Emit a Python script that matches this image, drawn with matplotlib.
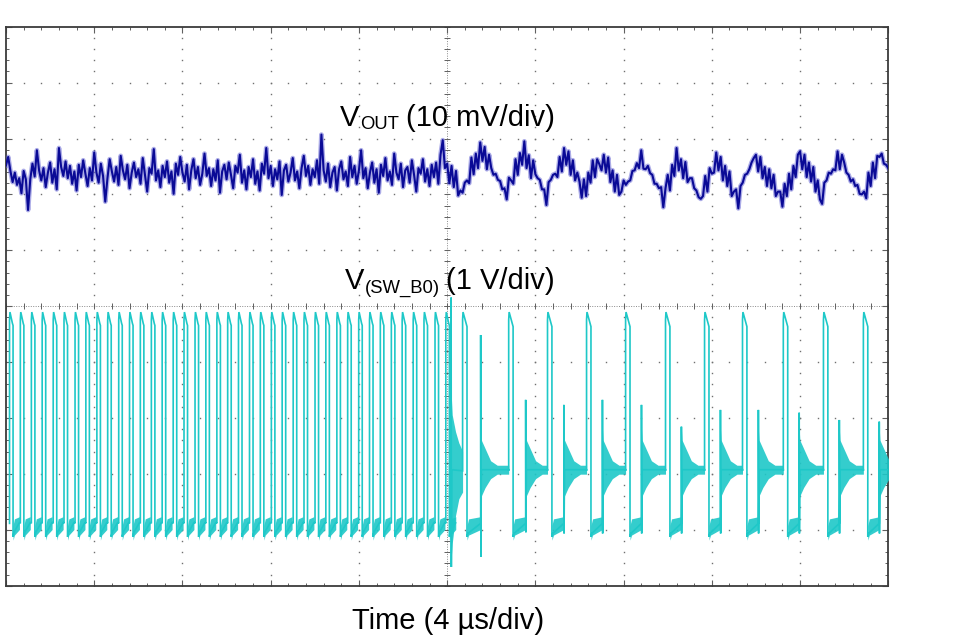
import numpy as np
import matplotlib
matplotlib.use("Agg")
import matplotlib.pyplot as plt
from matplotlib.transforms import IdentityTransform

# ---------------- data ----------------
# screen: 10 x 10 divisions, 4 us/div horizontally
US_PER_DIV = 4.0
N_DIV = 10

# VOUT channel (10 mV/div), samples every 0.1 us, values in mV around the trace offset
VOUT_OFFSET_DIV = 7.37
VOUT_MV_PER_DIV = 10.0
vout_left_mv = [
    1.5, 3.0, 0.5, -1.5, 0.2, -2.0, -0.8, -3.5, 0.5, -1.0,
    -6.5, -1.0, 1.8, -0.5, 4.2, 0.6, -1.2, 1.0, -2.4, 0.2,
    2.0, -1.6, 0.8, -2.8, 4.6, 1.2, -0.4, 2.2, -0.8, 1.4,
    -1.8, 0.4, -3.0, 1.6, -0.6, 2.4, 0.0, -2.2, 1.0, -1.2,
    3.8, 0.2, -1.6, 1.8, -0.4, -5.0, -0.8, 2.6, 0.4, -1.4,
    1.2, -2.0, 3.2, 0.6, -1.0, 1.6, -2.6, 0.2, 2.0, -0.6,
    0.8, -1.8, 2.8, -0.2, -3.2, 1.0, 0.0, 4.4, -1.2, 0.6,
    -2.4, 1.4, -0.6, 2.2, -1.6, 0.4, -3.6, 1.8, -0.2, 3.0,
    0.2, -1.4, 1.6, -2.8, 0.6, 2.6, -0.8, 1.2, -2.0, 0.0,
    3.6, -0.4, 1.0, -2.2, 0.8, -1.2, 2.4, -3.4, 0.4, 1.6,
    -1.0, 2.0, -0.2, -2.6, 1.4, 0.2, 3.4, -1.6, 0.6, -2.8,
    1.2, -0.6, 2.6, -1.8, 0.4, -3.0, 1.8, 0.0, 4.6, -0.8,
    1.4, -2.2, 0.8, -1.0, 2.2, -3.8, 0.6, 1.6, -1.4, 0.2,
    2.8, -1.2, 0.4, -2.6, 1.0, 3.2, -0.4, 1.4, -2.0, 0.8,
    -0.6, 2.4, -1.8, 7.0, 0.6, -1.4, 1.8, -2.4, 0.2, 1.2,
    -3.0, 0.8, 2.2, -1.0, 0.4, -2.2, 3.0, -0.6, 1.4, -1.8,
    0.6, 4.2, -0.8, 1.0, -2.6, 0.2, 2.0, -1.6, 0.8, -3.4,
    1.6, -0.4, 2.8, -1.2, 0.4, -2.0, 3.6, 0.2, -1.0, 1.8,
    -2.4, 0.6, 1.2, -1.6, 2.4, -0.2, -3.2, 1.0, 0.0, 2.6,
    -1.4, 0.8, -2.2, 1.6, -0.6, 2.0, -1.8, 3.4, 6.0, 1.0,
]
vout_right_mv = [
    1.8, -1.7, 1.4, -2.4, 0.5, -3.9, -3.0, -3.4, -1.6, -1.2,
    -1.7, 2.9, -0.1, 3.6, 1.0, 5.6, 2.3, 4.8, 0.8, 3.4,
    1.0, -0.2, 0.0, -1.1, -1.3, -2.8, -2.6, -4.6, -0.7, -1.2,
    -1.8, 2.6, -0.2, 3.7, 1.6, 5.8, 1.0, 3.3, -0.8, 2.4,
    -0.1, -0.8, -1.1, -2.8, -2.8, -5.6, -1.5, -1.1, -0.2, 0.0,
    -0.6, 3.0, 0.4, 4.6, 1.6, 4.0, -0.2, 2.4, -1.2, 0.2,
    -1.4, -4.3, -1.0, -4.0, 0.2, -1.6, 2.4, -0.6, 2.6, 1.7,
    0.6, 3.4, 0.2, 2.9, -1.5, 0.6, -3.2, -0.2, -3.8, -3.2,
    -1.2, -2.0, -1.4, -1.2, 0.5, 0.6, 1.9, 1.0, 4.2, 0.9,
    0.8, 1.4, 0.1, -0.2, -1.8, -1.8, -2.6, -2.4, -6.0, -2.6,
    -0.2, -3.0, 1.6, -0.4, 4.6, 0.6, 2.6, -0.8, 2.1, -1.5,
    -0.8, -0.8, -2.6, -3.0, -4.2, -4.5, -4.0, -0.4, -3.2, 1.0,
    0.0, 0.2, 3.8, 0.6, 3.0, -1.2, 1.4, -2.2, 0.4, -4.0,
    -3.2, -2.8, -6.2, -2.2, -1.6, -0.2, 0.0, 0.8, 2.0, 2.8,
    3.4, 0.4, 3.0, -0.8, 1.2, -2.2, 0.8, -2.6, -0.2, -4.0,
    -3.2, -3.2, -5.9, -1.8, -4.0, 0.0, -2.8, 1.4, -0.6, 3.4,
    4.0, 0.8, 3.4, -0.6, 2.0, -1.4, 1.2, -3.2, -1.2, -4.6,
    -5.4, -1.6, -1.2, 0.2, 0.0, 0.8, 0.6, 4.0, 0.8, 3.4,
    2.0, 0.2, -0.2, -1.4, -1.0, -2.2, -2.0, -3.6, -3.7, -3.2,
    -4.4, 0.2, -2.2, 2.0, -0.8, 3.2, 3.0, 3.6, 1.8, 1.6,
    1.0,
]
VOUT_DT_US = 0.1
VOUT_RIGHT_START_US = 20.0

# SW_B0 channel (1 V/div), volts relative to ground marker
SW_OFFSET_DIV = 1.055
SW_V_PER_DIV = 1.0

# continuous-conduction part: rising edge times (us)
ccm_edges_us = [0.16, 0.65, 1.15, 1.64, 2.14, 2.63, 3.13, 3.62, 4.12, 4.61,
                5.11, 5.60, 6.09, 6.59, 7.08, 7.58, 8.07, 8.57, 9.06, 9.56,
                10.05, 10.54, 11.04, 11.53, 12.03, 12.52, 13.02, 13.51, 14.01, 14.50,
                15.00, 15.49, 15.99, 16.48, 16.97, 17.47, 17.96, 18.46, 18.95, 19.45,
                19.94]
# one switching cycle shape (time after rising edge, volts)
ccm_pulse_dt = [0.00, 0.00, 0.02, 0.13, 0.16, 0.16, 0.20, 0.46]
ccm_pulse_v = [0.06, 3.70, 3.84, 3.64, 3.60, -0.18, -0.10, 0.08]
# thick low-level band after each pulse
low_band_dt = [0.16, 0.22, 0.45]
low_band_hi = [0.02, 0.14, 0.18]
low_band_lo = [-0.24, -0.15, -0.05]

# load-step transient ringing
transient_us = 20.18
transient_hi_v = 4.10
transient_lo_v = -0.72
transient_env_dt = [0.00, 0.05, 0.20, 0.35, 0.52]
transient_env_hi = [2.40, 2.00, 1.70, 1.50, 1.35]
transient_env_lo = [-0.60, -0.30, 0.20, 0.50, 0.62]

# discontinuous-conduction part
dcm_edges_us = [20.70, 22.79, 24.55, 26.32, 28.09, 29.90, 31.67, 33.39, 35.24, 37.06, 38.87]
dcm_ring_us = [21.52, 23.56, 25.29, 27.04, 28.81, 30.62, 32.39, 34.11, 35.96, 37.78, 39.59]
dcm_spike_hi_v = [3.43, 2.27, 2.18, 2.27, 2.18, 1.79, 2.09, 2.09, 2.04, 1.91, 1.88]
dcm_spike_lo_v = [-0.54, -0.10, -0.12, -0.12, -0.12, -0.12, -0.12, -0.12, -0.12, -0.12, -0.12]
dcm_pulse_dt = [0.00, 0.00, 0.02, 0.17, 0.20, 0.20, 0.24]
dcm_pulse_v = [1.00, 3.70, 3.84, 3.62, 3.58, -0.18, -0.12]
ring_env_dt = [0.00, 0.03, 0.20, 0.45, 0.75]
ring_env_hi = [1.75, 1.55, 1.40, 1.18, 1.10]
ring_env_lo = [0.45, 0.55, 0.70, 0.86, 0.94]
ring_level_v = 1.02
ring_flat_hi = 1.10
ring_flat_lo = 0.94

# labels
label_vout = ("V", "OUT", "(10 mV/div)")
label_sw = ("V", "(SW_B0)", "(1 V/div)")
label_time = "Time (4 µs/div)"

# ---------------- figure ----------------
W, H = 975, 638
fig = plt.figure(figsize=(W / 100, H / 100), dpi=100)
ax = fig.add_axes([6 / W, (H - 585.7) / H, 882.3 / W, 559 / H])
tmax = US_PER_DIV * N_DIV
ax.set_xlim(0, tmax)
ax.set_ylim(0, N_DIV)

FAM = "Liberation Sans"
GRID_C = "#707070"

# dotted graticule
ymin_pos = np.arange(0, N_DIV + 1e-9, 0.2)
xmin_pos = np.arange(0, tmax + 1e-9, US_PER_DIV / 5)
for k in range(1, N_DIV):
    if k == 5:
        continue
    xv = k * US_PER_DIV
    ax.plot(np.full_like(ymin_pos, xv), ymin_pos, ls="none", marker="s", ms=1.0,
            mfc=GRID_C, mec="none", zorder=1)
    ax.plot(xmin_pos, np.full_like(xmin_pos, k), ls="none", marker="s", ms=1.0,
            mfc=GRID_C, mec="none", zorder=1)
# center cross lines
ax.axvline(20, color="#8a8a8a", lw=0.7, ls=(0, (1, 1.5)), zorder=1)
ax.axhline(5, color="#8a8a8a", lw=0.7, ls=(0, (1, 1.5)), zorder=1)
ax.plot(np.full_like(ymin_pos, 20), ymin_pos, ls="none", marker="_", ms=4.5,
        mew=0.7, color="#606060", zorder=1)
ax.plot(xmin_pos, np.full_like(xmin_pos, 5), ls="none", marker="|", ms=4.5,
        mew=0.7, color="#606060", zorder=1)

# border ticks
ax.set_xticks(np.arange(0, tmax + 1e-9, US_PER_DIV))
ax.set_xticks(xmin_pos, minor=True)
ax.set_yticks(np.arange(0, N_DIV + 1e-9, 1))
ax.set_yticks(ymin_pos, minor=True)
ax.tick_params(which="both", direction="in", top=True, right=True, bottom=True, left=True,
               labelbottom=False, labelleft=False, color="#606060")
ax.tick_params(which="major", length=4, width=0.8)
ax.tick_params(which="minor", length=2.2, width=0.7)
for s in ax.spines.values():
    s.set_color("#3c3c3c")
    s.set_linewidth(1.3)

# ---------------- SW_B0 trace ----------------
SW_C = "#1ec8c8"
def sw_y(v):
    return SW_OFFSET_DIV + np.asarray(v, dtype=float) / SW_V_PER_DIV

pts_t, pts_v = [], []
fills = []
for te in ccm_edges_us:
    pts_t += [te + d for d in ccm_pulse_dt]
    pts_v += list(ccm_pulse_v)
    fills.append((np.array(low_band_dt) + te, low_band_hi, low_band_lo))
# transient
pts_t += [transient_us, transient_us, transient_us + 0.01, transient_us + 0.03]
pts_v += [0.0, transient_hi_v, transient_lo_v, ring_level_v]
fills.append((np.array(transient_env_dt) + transient_us, transient_env_hi, transient_env_lo))
# DCM cycles
for i, te in enumerate(dcm_edges_us):
    tr = dcm_ring_us[i]
    nxt = dcm_edges_us[i + 1] if i + 1 < len(dcm_edges_us) else tmax + 0.5
    pts_t += [te + d for d in dcm_pulse_dt]
    pts_v += list(dcm_pulse_v)
    pts_t += [tr, tr, tr + 0.01, tr + 0.03, nxt]
    pts_v += [0.06, dcm_spike_hi_v[i], dcm_spike_lo_v[i], ring_level_v, ring_level_v]
    # low band from the falling edge up to the ring start
    fills.append((np.array([te + 0.20, te + 0.27, tr]), low_band_hi, low_band_lo))
    env_t = np.concatenate([np.array(ring_env_dt) + tr, [nxt]])
    fills.append((env_t, ring_env_hi + [ring_flat_hi], ring_env_lo + [ring_flat_lo]))

for ft, fh, fl in fills:
    ax.fill_between(ft, sw_y(fh), sw_y(fl), color=SW_C, lw=0, alpha=0.9, zorder=3)
ax.plot(pts_t, sw_y(pts_v), color=SW_C, lw=1.2, zorder=4, solid_joinstyle="miter")

# ---------------- VOUT trace ----------------
t_left = VOUT_DT_US * np.arange(len(vout_left_mv))
t_right = VOUT_RIGHT_START_US + VOUT_DT_US * np.arange(len(vout_right_mv))
t_v = np.concatenate([t_left, t_right])
y_v = VOUT_OFFSET_DIV + np.concatenate([vout_left_mv, vout_right_mv]) / VOUT_MV_PER_DIV
ax.plot(t_v, y_v, color="#5a5ad0", lw=3.4, alpha=0.5, zorder=5)
ax.plot(t_v, y_v, color="#0a0a96", lw=1.5, zorder=6)

# ---------------- labels ----------------
fig.canvas.draw()
rend = fig.canvas.get_renderer()

def compose(xc_px, base_px, parts):
    # parts: (text, size, drop below baseline in px, gap after in px)
    objs, widths = [], []
    for s, size, drop, gap in parts:
        t = fig.text(0, 0, s, fontsize=size, family=FAM, transform=IdentityTransform(),
                     ha="left", va="baseline", color="black")
        w = t.get_window_extent(renderer=rend).width
        objs.append(t)
        widths.append(w + gap)
    x = xc_px - sum(widths) / 2
    for t, w, (s, size, drop, gap) in zip(objs, widths, parts):
        t.set_position((x, H - base_px - drop))
        x += w

compose(447, 126, [(label_vout[0], 21, 0, 1), (label_vout[1], 13.3, 3, 7), (label_vout[2], 21, 0, 0)])
compose(450, 289, [(label_sw[0], 21, 0, 1), (label_sw[1], 13.3, 4, 6), (label_sw[2], 21, 0, 0)])
fig.text(448 / W, 1 - 629 / H, label_time, fontsize=21, family=FAM, ha="center", va="baseline")

fig.savefig("out.png", dpi=100)
